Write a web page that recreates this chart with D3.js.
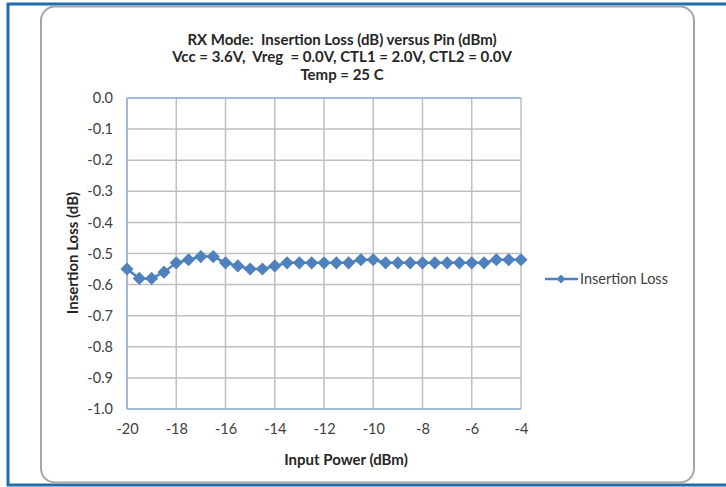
<!DOCTYPE html>
<html><head><meta charset="utf-8">
<script src="https://cdn.jsdelivr.net/npm/d3@7"></script>
<style>body{margin:0;background:#fff;} svg{display:block;} text{font-family:"Lato","Open Sans",sans-serif;white-space:pre;}</style>
</head><body>
<script>
const titleLines = ["RX Mode:  Insertion Loss (dB) versus Pin (dBm)", "Vcc = 3.6V,  Vreg  = 0.0V, CTL1 = 2.0V, CTL2 = 0.0V", "Temp = 25 C"];
const inputPower = [-20,-19.5,-19,-18.5,-18,-17.5,-17,-16.5,-16,-15.5,-15,-14.5,-14,-13.5,-13,-12.5,-12,-11.5,-11,-10.5,-10,-9.5,-9,-8.5,-8,-7.5,-7,-6.5,-6,-5.5,-5,-4.5,-4];
const insertionLoss = [-0.55,-0.58,-0.58,-0.56,-0.53,-0.52,-0.51,-0.51,-0.53,-0.54,-0.55,-0.55,-0.54,-0.53,-0.53,-0.53,-0.53,-0.53,-0.53,-0.52,-0.52,-0.53,-0.53,-0.53,-0.53,-0.53,-0.53,-0.53,-0.53,-0.53,-0.52,-0.52,-0.52];
const xTicks = [-20,-18,-16,-14,-12,-10,-8,-6,-4];
const yTicks = [0,-0.1,-0.2,-0.3,-0.4,-0.5,-0.6,-0.7,-0.8,-0.9,-1.0];
const seriesName = "Insertion Loss";
const xTitle = "Input Power (dBm)";
const yTitle = "Insertion Loss (dB)";

const W = 726, H = 487;
const svg = d3.select("body").append("svg").attr("width", W).attr("height", H);

// outer blue frame
const blue = "#1f6dad";
svg.append("line").attr("x1",7).attr("x2",726).attr("y1",4).attr("y2",4).attr("stroke",blue).attr("stroke-width",3);
svg.append("line").attr("x1",8).attr("x2",8).attr("y1",3).attr("y2",486).attr("stroke",blue).attr("stroke-width",3);
svg.append("line").attr("x1",7).attr("x2",726).attr("y1",485).attr("y2",485).attr("stroke",blue).attr("stroke-width",3);

// chart area rounded border
svg.append("rect").attr("x",41).attr("y",6.5).attr("width",653).attr("height",476).attr("rx",14)
  .attr("fill","#fff").attr("stroke","#a6a6a6").attr("stroke-width",2);

const L = 127, R = 521, T = 98, B = 409;
const x = d3.scaleLinear().domain([-20,-4]).range([L,R]);
const y = d3.scaleLinear().domain([-1,0]).range([B,T]);

// gridlines
const g = svg.append("g");
g.selectAll(".hg").data(yTicks).join("line").attr("x1",L).attr("x2",R)
  .attr("y1",d=>y(d)).attr("y2",d=>y(d)).attr("stroke","#bfbfbf").attr("stroke-width",1.5);
g.selectAll(".vg").data(xTicks).join("line").attr("y1",T).attr("y2",B)
  .attr("x1",d=>x(d)).attr("x2",d=>x(d)).attr("stroke","#bfbfbf").attr("stroke-width",1.5);
// axis lines (light blue)
svg.append("line").attr("x1",L).attr("x2",L).attr("y1",T).attr("y2",B).attr("stroke","#95b3d7").attr("stroke-width",1.5);
svg.append("line").attr("x1",L).attr("x2",R).attr("y1",B).attr("y2",B).attr("stroke","#95b3d7").attr("stroke-width",1.5);
svg.append("line").attr("x1",L).attr("x2",R).attr("y1",T).attr("y2",T).attr("stroke","#95b3d7").attr("stroke-width",1.5);

const hy = f => d => f(d).replace("\u2212","-");
// axes labels via d3 axes
const yAxis = svg.append("g").attr("transform",`translate(${L},0)`)
  .call(d3.axisLeft(y).tickValues(yTicks).tickFormat(hy(d3.format(".1f"))).tickSize(0).tickPadding(14));
yAxis.select(".domain").remove();
yAxis.selectAll("text").attr("font-size",14.5).attr("fill","#404040").style("font-family","Lato");
const xAxis = svg.append("g").attr("transform",`translate(0,${B})`)
  .call(d3.axisBottom(x).tickValues(xTicks).tickFormat(hy(d3.format("d"))).tickSize(0).tickPadding(15));
xAxis.select(".domain").remove();
xAxis.selectAll("text").attr("font-size",14.5).attr("fill","#404040").style("font-family","Lato");

// titles
svg.append("g").selectAll("text").data(titleLines).join("text")
  .attr("x",342).attr("y",(d,i)=>[45,62,80][i]).attr("text-anchor","middle")
  .attr("font-size",15).attr("font-weight","bold").attr("fill","#262626").text(d=>d);
svg.append("text").attr("x",346).attr("y",465).attr("text-anchor","middle")
  .attr("font-size",15).attr("font-weight","bold").attr("fill","#262626").text(xTitle);
svg.append("text").attr("transform","translate(78,253) rotate(-90)").attr("text-anchor","middle")
  .attr("font-size",15).attr("font-weight","bold").attr("fill","#262626").text(yTitle);

// series
const color = "#4f81bd";
const data = inputPower.map((p,i)=>({p, v: insertionLoss[i]}));
svg.append("path").datum(data).attr("fill","none").attr("stroke",color).attr("stroke-width",2.5)
  .attr("d", d3.line().x(d=>x(d.p)).y(d=>y(d.v)));
const diamond = d3.symbol().type(d3.symbolDiamond2).size(110);
svg.append("g").selectAll("path").data(data).join("path")
  .attr("transform",d=>`translate(${x(d.p)},${y(d.v)})`).attr("d",diamond).attr("fill",color);

// legend
const ly = 279;
svg.append("line").attr("x1",545).attr("x2",578).attr("y1",ly).attr("y2",ly).attr("stroke",color).attr("stroke-width",2.5);
svg.append("path").attr("transform",`translate(561,${ly})`).attr("d",d3.symbol().type(d3.symbolDiamond2).size(50)).attr("fill",color);
svg.append("text").attr("x",580).attr("y",ly+5).attr("font-size",14.5).attr("fill","#404040").text(seriesName);
</script>
</body></html>
